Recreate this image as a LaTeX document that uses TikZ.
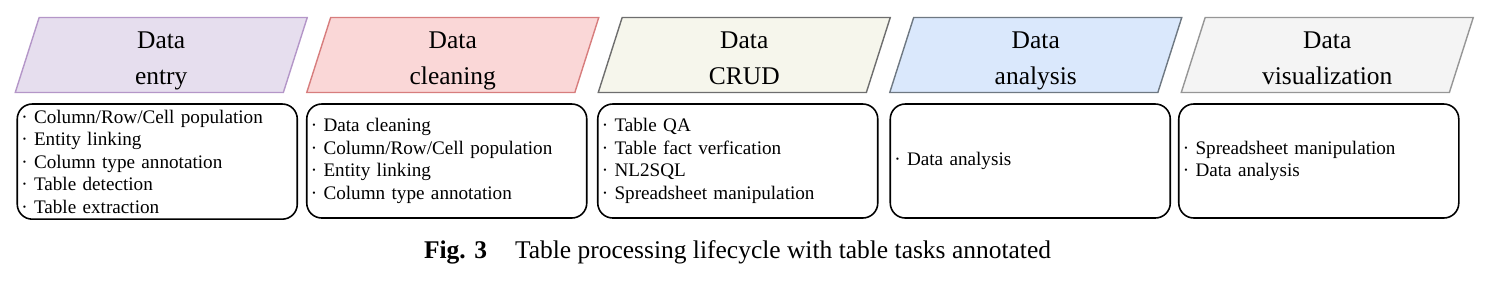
\documentclass[tikz,border=0pt]{standalone}
\usepackage{fontspec}
\setmainfont{Liberation Serif}
\usetikzlibrary{shapes.geometric,positioning}
\definecolor{entryfill}{RGB}{230,222,238}
\definecolor{entrydraw}{RGB}{180,150,200}
\definecolor{cleanfill}{RGB}{250,215,215}
\definecolor{cleandraw}{RGB}{215,125,125}
\definecolor{crudfill}{RGB}{246,246,236}
\definecolor{cruddraw}{RGB}{110,110,110}
\definecolor{analysisfill}{RGB}{218,232,252}
\definecolor{analysisdraw}{RGB}{110,120,130}
\definecolor{visfill}{RGB}{244,244,244}
\definecolor{visdraw}{RGB}{150,150,150}
\tikzset{
  phase/.style={trapezium,trapezium left angle=71.6,trapezium right angle=108.4,
                trapezium stretches body,minimum width=5.84cm,minimum height=1.5cm,
                inner ysep=0pt,line width=0.8pt,align=center,
                font=\fontsize{14.5}{21}\selectfont},
  tasks/.style={rectangle,rounded corners=0.3cm,draw=black,line width=0.9pt,
                minimum width=5.6cm,minimum height=2.28cm,text width=5.44cm,
                inner xsep=0.08cm,align=left,
                font=\fontsize{10.9}{12.8}\selectfont},
}

\begin{document}
\begin{tikzpicture}
    \useasboundingbox (0,0) rectangle (30.06,-5.76);

    \foreach \i/\nm/\ttl in {0/entry/entry,1/clean/cleaning,2/crud/CRUD,
                             3/analysis/analysis,4/vis/visualization}
      \node[phase,fill=\nm fill,draw=\nm draw] (\nm) at (3.225+5.83*\i,-1.1)
          {\rule{0pt}{16.5pt}Data\\\ttl\rule[-3.4pt]{0pt}{3.4pt}};

    \node[tasks,below=0.2cm of entry,xshift=-0.08cm] (entrytasks)
        {·~Column/Row/Cell population\\·~Entity linking\\
         ·~Column type annotation\\·~Table detection\\·~Table extraction};
    \node[tasks,below=0.2cm of clean,xshift=-0.12cm] (cleantasks)
        {·~Data cleaning\\·~Column/Row/Cell population\\
         ·~Entity linking\\·~Column type annotation};
    \node[tasks,below=0.2cm of crud,xshift=-0.13cm] (crudtasks)
        {·~Table QA\\·~Table fact verfication\\·~NL2SQL\\
         ·~Spreadsheet manipulation};
    \node[tasks,below=0.2cm of analysis,xshift=-0.11cm] (analysistasks)
        {·~Data analysis};
    \node[tasks,below=0.2cm of vis,xshift=-0.17cm] (vistasks)
        {·~Spreadsheet manipulation\\·~Data analysis};

    \node[font=\fontsize{14.5}{17}\selectfont] (caption) at (14.75,-5.04)
        {\textbf{Fig. 3}\hspace{1.1em}Table processing lifecycle with table tasks annotated};

\end{tikzpicture}
\end{document}
